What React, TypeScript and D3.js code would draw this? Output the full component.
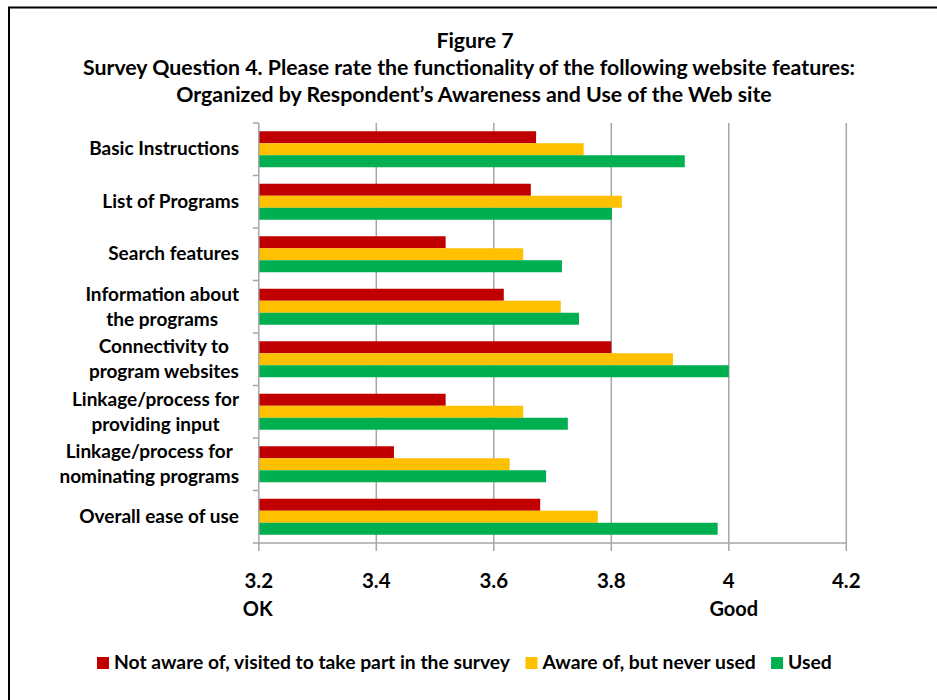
import React from "react";
import * as d3 from "d3";

const categories: string[][] = [
  ["Basic Instructions"],
  ["List of Programs"],
  ["Search features"],
  ["Information about", "the programs"],
  ["Connectivity to", "program websites"],
  ["Linkage/process for", "providing input"],
  ["Linkage/process for", "nominating programs"],
  ["Overall ease of use"],
];

const seriesNames = [
  "Not aware of, visited to take part in the survey",
  "Aware of, but never used",
  "Used",
];

const notAware = [3.672, 3.663, 3.518, 3.617, 3.8, 3.518, 3.43, 3.679];
const awareNeverUsed = [3.753, 3.818, 3.65, 3.714, 3.905, 3.65, 3.627, 3.777];
const used = [3.925, 3.801, 3.716, 3.745, 4.0, 3.726, 3.689, 3.981];

const xTicks = [3.2, 3.4, 3.6, 3.8, 4.0, 4.2];
const xTickLabels = ["3.2", "3.4", "3.6", "3.8", "4", "4.2"];
const anchorLabels: [number, string][] = [
  [3.2, "OK"],
  [4.0, "Good"],
];

const titleLines = [
  "Figure 7",
  "Survey Question 4. Please rate the functionality of the following website features:",
  "Organized by Respondent\u2019s Awareness and Use of the Web site",
];

const colors = ["#C00000", "#FFC000", "#00B050"];
const FONT = "Lato, 'Open Sans', sans-serif";

function measure(text: string, font: string): number {
  const c = document.createElement("canvas");
  const ctx = c.getContext("2d")!;
  ctx.font = font;
  return ctx.measureText(text).width;
}

export default function App() {
  const W = 937;
  const H = 700;
  const x = d3.scaleLinear().domain([3.2, 4.2]).range([258.8, 846.3]);
  const keys = categories.map((c) => c.join(" "));
  const y0 = d3.scaleBand<string>().domain(keys).range([123, 543]).padding(0);
  const y1 = d3
    .scaleBand<string>()
    .domain(seriesNames)
    .range([0, y0.bandwidth()])
    .paddingInner(0)
    .paddingOuter(0.6875);
  const seriesData = [notAware, awareNeverUsed, used];
  const LABEL_SIZE = 19;
  const LEGEND_SIZE = 19.3;
  const labelFont = `bold ${LABEL_SIZE}px ${FONT}`;
  const legendFont = `bold ${LEGEND_SIZE}px ${FONT}`;

  return (
    <svg
      width={W}
      height={H}
      style={{ position: "absolute", left: 0, top: 0, background: "#fff" }}
      fontFamily={FONT}
    >
      <rect x={9} y={7.5} width={1000} height={800} fill="#fff" stroke="#000" strokeWidth={2} />
      {titleLines.map((t, i) => (
        <text
          key={i}
          x={[475, 469, 474][i]}
          y={[48, 75, 102][i]}
          textAnchor="middle"
          fontWeight="bold"
          fontSize={21.3}
          fill="#000"
        >
          {t}
        </text>
      ))}
      {/* gridlines */}
      {xTicks.slice(1).map((t) => (
        <line key={t} x1={x(t)} x2={x(t)} y1={123} y2={543} stroke="#a6a6a6" strokeWidth={1.5} />
      ))}
      {/* bars */}
      {seriesData.map((arr, si) =>
        arr.map((v, ci) => (
          <rect
            key={`${si}-${ci}`}
            x={x(3.2)}
            y={(y0(keys[ci]) as number) + (y1(seriesNames[si]) as number)}
            width={x(v) - x(3.2)}
            height={y1.bandwidth()}
            fill={colors[si]}
          />
        ))
      )}
      {/* y axis */}
      <line x1={x(3.2)} x2={x(3.2)} y1={123} y2={543} stroke="#a6a6a6" strokeWidth={1.5} />
      {keys.map((k) => (
        <line
          key={k}
          x1={x(3.2) - 6}
          x2={x(3.2)}
          y1={y0(k) as number}
          y2={y0(k) as number}
          stroke="#a6a6a6"
          strokeWidth={1.5}
        />
      ))}
      <line x1={x(3.2) - 6} x2={x(3.2)} y1={543} y2={543} stroke="#a6a6a6" strokeWidth={1.5} />
      {/* x axis */}
      <line x1={x(3.2)} x2={x(4.2)} y1={543} y2={543} stroke="#a6a6a6" strokeWidth={1.5} />
      {xTicks.map((t) => (
        <line key={t} x1={x(t)} x2={x(t)} y1={543} y2={551} stroke="#a6a6a6" strokeWidth={1.5} />
      ))}
      {xTicks.map((t, i) => (
        <text key={t} x={x(t)} y={588} textAnchor="middle" fontWeight="bold" fontSize={20.5} fill="#000">
          {xTickLabels[i]}
        </text>
      ))}
      {anchorLabels.map(([v, s], i) => (
        <text key={s} x={x(v) + [-1, 5][i]} y={616} textAnchor="middle" fontWeight="bold" fontSize={20} fill="#000">
          {s}
        </text>
      ))}
      {/* category labels */}
      {categories.map((lines, i) => {
        const cy = (y0(keys[i]) as number) + y0.bandwidth() / 2;
        if (lines.length === 1) {
          return (
            <text key={i} x={239} y={cy + 6} textAnchor="end" fontWeight="bold" fontSize={LABEL_SIZE} fill="#000">
              {lines[0]}
            </text>
          );
        }
        const maxW = Math.max(...lines.map((l) => measure(l, labelFont)));
        const cx = 239 - maxW / 2;
        return (
          <text key={i} textAnchor="middle" fontWeight="bold" fontSize={LABEL_SIZE} fill="#000">
            {lines.map((l, j) => (
              <tspan key={j} x={cx} y={cy - 6 + j * 25}>
                {l}
              </tspan>
            ))}
          </text>
        );
      })}
      {/* legend */}
      {(() => {
        let cur = 97;
        return seriesNames.map((s, i) => {
          const w = measure(s, legendFont);
          const g = (
            <g key={s}>
              <rect x={cur} y={657} width={12} height={12} fill={colors[i]} />
              <text x={cur + 17} y={669} fontWeight="bold" fontSize={LEGEND_SIZE} fill="#000">
                {s}
              </text>
            </g>
          );
          cur += 17 + w + 15;
          return g;
        });
      })()}
    </svg>
  );
}
